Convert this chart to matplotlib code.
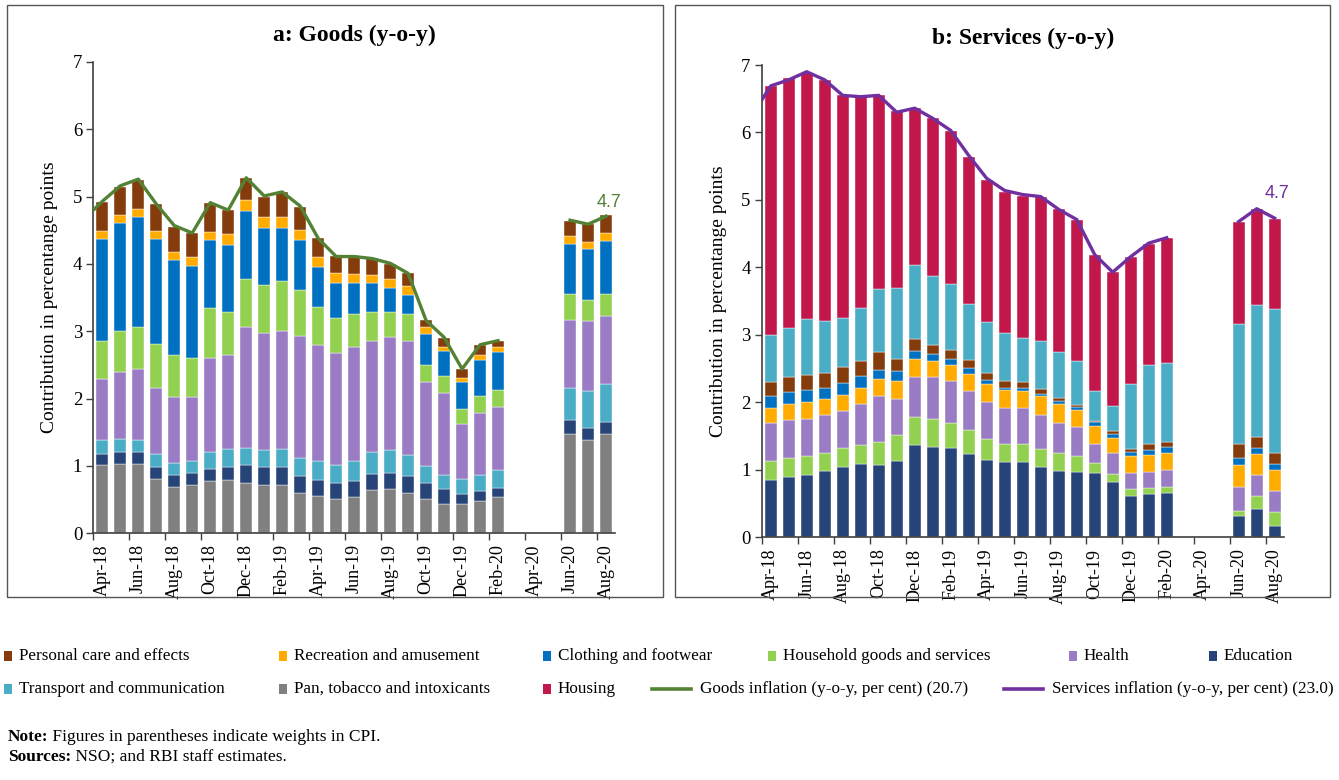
import matplotlib.pyplot as plt
import numpy as np
from matplotlib.patches import Rectangle
from matplotlib.lines import Line2D

plt.rcParams['font.family'] = ['Liberation Serif', 'DejaVu Serif']

nan = np.nan

months = ['Apr-18', 'May-18', 'Jun-18', 'Jul-18', 'Aug-18', 'Sep-18', 'Oct-18', 'Nov-18',
          'Dec-18', 'Jan-19', 'Feb-19', 'Mar-19', 'Apr-19', 'May-19', 'Jun-19', 'Jul-19',
          'Aug-19', 'Sep-19', 'Oct-19', 'Nov-19', 'Dec-19', 'Jan-20', 'Feb-20', 'Mar-20',
          'Apr-20', 'May-20', 'Jun-20', 'Jul-20', 'Aug-20']

# ---- Goods: contributions (percentage points), bottom to top ----
g_pan = [1.01, 1.03, 1.03, 0.81, 0.69, 0.72, 0.78, 0.79, 0.75, 0.72, 0.72, 0.60, 0.56, 0.51, 0.54,
         0.64, 0.65, 0.60, 0.51, 0.43, 0.44, 0.48, 0.54, nan, nan, nan, 1.48, 1.39, 1.47]
g_edu = [0.17, 0.17, 0.18, 0.18, 0.18, 0.17, 0.18, 0.19, 0.27, 0.26, 0.27, 0.25, 0.23, 0.23, 0.24,
         0.24, 0.24, 0.25, 0.24, 0.22, 0.14, 0.14, 0.13, nan, nan, nan, 0.20, 0.18, 0.18]
g_trans = [0.20, 0.20, 0.18, 0.18, 0.18, 0.19, 0.24, 0.27, 0.24, 0.25, 0.26, 0.26, 0.28, 0.28, 0.30,
           0.32, 0.34, 0.31, 0.25, 0.22, 0.22, 0.24, 0.27, nan, nan, nan, 0.48, 0.54, 0.56]
g_health = [0.91, 1.00, 1.05, 0.99, 0.97, 0.95, 1.41, 1.39, 1.81, 1.74, 1.76, 1.82, 1.72, 1.65, 1.69,
            1.65, 1.68, 1.70, 1.24, 1.21, 0.82, 0.93, 0.94, nan, nan, nan, 1.00, 1.04, 1.02]
g_hh = [0.57, 0.61, 0.63, 0.65, 0.62, 0.58, 0.73, 0.64, 0.70, 0.72, 0.73, 0.68, 0.57, 0.53, 0.49,
        0.44, 0.38, 0.39, 0.26, 0.26, 0.22, 0.25, 0.25, nan, nan, nan, 0.39, 0.31, 0.33]
g_cloth = [1.51, 1.60, 1.63, 1.56, 1.42, 1.36, 1.01, 1.00, 1.01, 0.84, 0.79, 0.75, 0.60, 0.52, 0.45,
           0.42, 0.35, 0.29, 0.46, 0.37, 0.41, 0.53, 0.56, nan, nan, nan, 0.74, 0.76, 0.78]
g_rec = [0.12, 0.12, 0.12, 0.12, 0.12, 0.13, 0.12, 0.16, 0.17, 0.16, 0.16, 0.14, 0.14, 0.14, 0.14,
         0.13, 0.13, 0.13, 0.11, 0.06, 0.05, 0.07, 0.07, nan, nan, nan, 0.12, 0.11, 0.12]
g_pc = [0.43, 0.42, 0.43, 0.40, 0.37, 0.36, 0.44, 0.36, 0.33, 0.31, 0.38, 0.34, 0.29, 0.26, 0.26,
        0.25, 0.23, 0.20, 0.09, 0.13, 0.14, 0.15, 0.10, nan, nan, nan, 0.23, 0.26, 0.26]

# goods inflation line, series starts in Mar-18
goods_line = [4.67, 4.93, 5.16, 5.26, 4.89, 4.57, 4.46, 4.91, 4.80, 5.28, 5.01, 5.07, 4.86, 4.38, 4.11,
              4.11, 4.08, 4.01, 3.86, 3.16, 2.91, 2.44, 2.80, 2.86, nan, nan, nan, 4.65, 4.59, 4.71]

# ---- Services: contributions, bottom to top ----
s_edu = [0.85, 0.89, 0.92, 0.98, 1.05, 1.09, 1.07, 1.13, 1.37, 1.34, 1.32, 1.23, 1.15, 1.11, 1.12,
         1.04, 0.98, 0.97, 0.95, 0.82, 0.62, 0.65, 0.66, nan, nan, nan, 0.32, 0.42, 0.17]
s_hh = [0.28, 0.29, 0.28, 0.27, 0.27, 0.28, 0.34, 0.38, 0.41, 0.41, 0.38, 0.36, 0.31, 0.28, 0.27,
        0.27, 0.27, 0.24, 0.15, 0.12, 0.10, 0.08, 0.09, nan, nan, nan, 0.07, 0.19, 0.20]
s_health = [0.56, 0.56, 0.56, 0.56, 0.56, 0.61, 0.69, 0.54, 0.60, 0.63, 0.62, 0.58, 0.55, 0.53, 0.53,
            0.50, 0.45, 0.43, 0.29, 0.31, 0.24, 0.24, 0.25, nan, nan, nan, 0.35, 0.31, 0.32]
s_rec = [0.23, 0.23, 0.25, 0.24, 0.23, 0.24, 0.24, 0.27, 0.27, 0.24, 0.24, 0.25, 0.26, 0.26, 0.25,
         0.28, 0.27, 0.25, 0.26, 0.23, 0.24, 0.25, 0.25, nan, nan, nan, 0.34, 0.31, 0.31]
s_cloth = [0.17, 0.19, 0.18, 0.17, 0.18, 0.17, 0.14, 0.14, 0.11, 0.10, 0.09, 0.09, 0.06, 0.04, 0.05,
           0.04, 0.05, 0.04, 0.06, 0.05, 0.07, 0.08, 0.09, nan, nan, nan, 0.10, 0.10, 0.09]
s_pc = [0.22, 0.21, 0.22, 0.22, 0.23, 0.22, 0.26, 0.19, 0.18, 0.13, 0.13, 0.12, 0.10, 0.10, 0.08,
        0.07, 0.04, 0.03, 0.01, 0.04, 0.04, 0.08, 0.07, nan, nan, nan, 0.21, 0.16, 0.16]
s_trans = [0.69, 0.74, 0.82, 0.76, 0.73, 0.79, 0.94, 1.04, 1.10, 1.02, 0.98, 0.83, 0.76, 0.71, 0.65,
           0.71, 0.68, 0.65, 0.45, 0.37, 0.96, 1.17, 1.17, nan, nan, nan, 1.77, 1.96, 2.13]
s_housing = [3.69, 3.69, 3.65, 3.58, 3.30, 3.13, 2.87, 2.63, 2.32, 2.34, 2.26, 2.18, 2.11, 2.09, 2.11,
             2.13, 2.13, 2.09, 2.02, 1.99, 1.89, 1.80, 1.86, nan, nan, nan, 1.52, 1.42, 1.34]

services_line = [6.27, 6.69, 6.78, 6.90, 6.78, 6.55, 6.53, 6.55, 6.30, 6.36, 6.21, 6.03, 5.66, 5.32, 5.14,
                 5.08, 5.05, 4.86, 4.71, 4.19, 3.93, 4.16, 4.36, 4.44, nan, nan, nan, 4.68, 4.87, 4.73]

# ---- colours ----
c_pc = '#843C0C'
c_rec = '#FFAB00'
c_cloth = '#0070C0'
c_hh = '#92D050'
c_health = '#9A7CC4'
c_edu = '#264478'
c_trans = '#4BACC6'
c_pan = '#808080'
c_housing = '#C2174A'
c_goods = '#548235'
c_serv = '#7030A0'

goods_stack = [(g_pan, c_pan), (g_edu, c_edu), (g_trans, c_trans), (g_health, c_health),
               (g_hh, c_hh), (g_cloth, c_cloth), (g_rec, c_rec), (g_pc, c_pc)]
serv_stack = [(s_edu, c_edu), (s_hh, c_hh), (s_health, c_health), (s_rec, c_rec),
              (s_cloth, c_cloth), (s_pc, c_pc), (s_trans, c_trans), (s_housing, c_housing)]

W, H = 1339, 780
fig = plt.figure(figsize=(W / 100, H / 100), dpi=100)


def px(x0, y0, x1, y1):
    # pixel box -> figure fraction rect
    return [x0 / W, 1 - y1 / H, (x1 - x0) / W, (y1 - y0) / H]


def draw_panel(ax, stack, line, line_color, title, label_off, ylab_x):
    x = np.arange(len(months))
    bottom = np.zeros(len(months))
    for vals, col in stack:
        v = np.array(vals, dtype=float)
        ok = ~np.isnan(v)
        ax.bar(x[ok], v[ok], bottom=bottom[ok], width=0.68, color=col,
               edgecolor='white', linewidth=0.3, zorder=2)
        bottom = bottom + np.nan_to_num(v)
    lx = np.arange(len(line)) - 1
    ax.plot(lx, line, color=line_color, lw=2.4, zorder=3, solid_joinstyle='round')
    ax.annotate('%.1f' % line[-1], (lx[-1], line[-1]), xytext=(2, label_off), textcoords='offset points',
                ha='center', va='bottom', color=line_color, fontsize=13,
                family=['Liberation Sans', 'DejaVu Sans'])

    ax.set_xlim(-0.5, len(months) - 0.5)
    ax.set_ylim(0, 7)
    ax.set_yticks(range(8))
    ax.tick_params(axis='y', labelsize=13.5, length=5, width=1, color='#404040', pad=3)
    ax.set_xticks(np.arange(-0.5, len(months) - 1, 2))
    ax.set_xticklabels([])
    ax.set_xticks(np.arange(0, len(months), 2), minor=True)
    ax.set_xticklabels(months[::2], minor=True, rotation=90, fontsize=13)
    ax.tick_params(axis='x', which='major', length=5, width=1, color='#404040')
    ax.tick_params(axis='x', which='minor', length=0, pad=8)
    for s in ['top', 'right']:
        ax.spines[s].set_visible(False)
    for s in ['left', 'bottom']:
        ax.spines[s].set_color('#404040')
        ax.spines[s].set_linewidth(1.2)
    ax.set_ylabel('Contribution in percentange points', fontsize=14)
    ax.yaxis.set_label_coords(ylab_x, 0.5)
    ax.set_title(title, fontsize=17, fontweight='bold', pad=15)


ax1 = fig.add_axes(px(93.3, 62, 615, 533.2))
draw_panel(ax1, goods_stack, goods_line, c_goods, 'a: Goods (y-o-y)', 4, -0.068)
ax2 = fig.add_axes(px(761.7, 65, 1283.7, 537.4))
draw_panel(ax2, serv_stack, services_line, c_serv, 'b: Services (y-o-y)', 12, -0.066)

# panel frames
for box in [(7, 5, 663, 597), (675, 5, 1330, 597)]:
    r = px(*box)
    fig.add_artist(Rectangle((r[0], r[1]), r[2], r[3], transform=fig.transFigure,
                             fill=False, edgecolor='#555555', lw=1.0))

# legend, drawn by hand to follow the original layout
legend_items = [
    ('Personal care and effects', c_pc, 'box', 4, 656),
    ('Recreation and amusement', c_rec, 'box', 279, 656),
    ('Clothing and footwear', c_cloth, 'box', 543, 656),
    ('Household goods and services', c_hh, 'box', 768, 656),
    ('Health', c_health, 'box', 1069, 656),
    ('Education', c_edu, 'box', 1209, 656),
    ('Transport and communication', c_trans, 'box', 4, 689),
    ('Pan, tobacco and intoxicants', c_pan, 'box', 279, 689),
    ('Housing', c_housing, 'box', 543, 689),
    ('Goods inflation (y-o-y, per cent) (20.7)', c_goods, 'line', 652, 689),
    ('Services inflation (y-o-y, per cent) (23.0)', c_serv, 'line', 1004, 689),
]
for label, col, kind, x0, yc in legend_items:
    if kind == 'box':
        r = px(x0, yc - 5, x0 + 8, yc + 5)
        fig.add_artist(Rectangle((r[0], r[1]), r[2], r[3], transform=fig.transFigure,
                                 facecolor=col, edgecolor='none'))
        tx = x0 + 15
    else:
        fig.add_artist(Line2D([x0 / W, (x0 + 39) / W], [1 - yc / H] * 2,
                              transform=fig.transFigure, color=col, lw=2.6))
        tx = x0 + 48
    fig.text(tx / W, 1 - yc / H, label, fontsize=12.3, va='center', ha='left')

# notes
renderer = fig.canvas.get_renderer()
for bold, rest, yc in [('Note:', ' Figures in parentheses indicate weights in CPI.', 737),
                       ('Sources:', ' NSO; and RBI staff estimates.', 757)]:
    t = fig.text(8 / W, 1 - yc / H, bold, fontsize=12.5, fontweight='bold', va='center', ha='left')
    bb = t.get_window_extent(renderer)
    fig.text(bb.x1 / W, 1 - yc / H, rest, fontsize=12.5, va='center', ha='left')

fig.savefig('out.png', dpi=100, facecolor='white')
